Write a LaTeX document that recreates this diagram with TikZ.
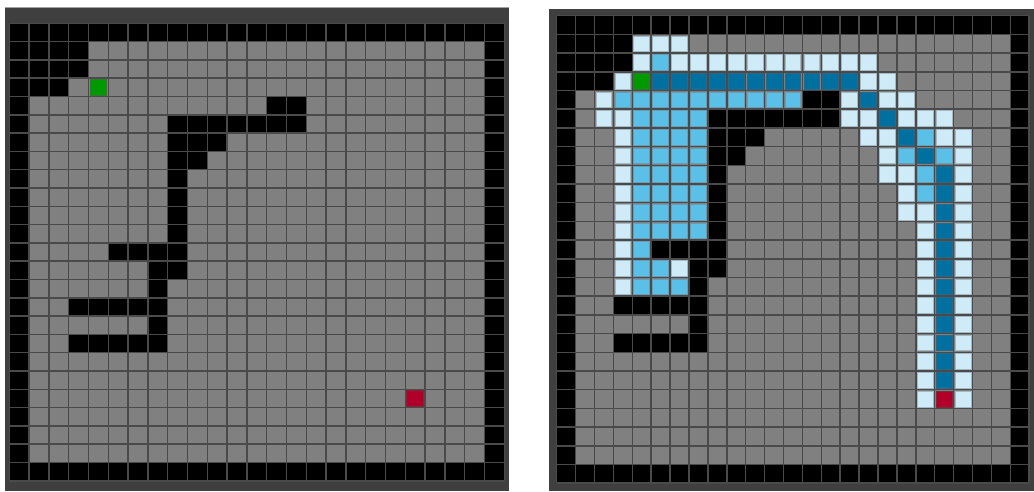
\documentclass[tikz,border=0pt]{standalone}
\definecolor{framec}{HTML}{3F3F3F}
\definecolor{cellc}{HTML}{808080}
\definecolor{linec}{HTML}{4A4A4A}
\definecolor{wallc}{HTML}{000000}
\definecolor{visL}{HTML}{CFEBF7}
\definecolor{visLd}{HTML}{A3BAC4}
\definecolor{visM}{HTML}{5BC0E8}
\definecolor{visMd}{HTML}{6A9DB3}
\definecolor{visD}{HTML}{0070A0}
\definecolor{visDd}{HTML}{2D6786}
\definecolor{startc}{HTML}{009A00}
\definecolor{startd}{HTML}{2F7A2F}
\definecolor{goalc}{HTML}{B0002A}
\definecolor{goald}{HTML}{7A2A38}
\tikzset{
  panelframe/.style={fill=framec},
  floorcell/.style={fill=cellc},
  wallcell/.style={fill=wallc},
  gridline/.style={draw=linec, line width=1.5pt},
  visitcell/.style={line width=0.8pt},
  vislight/.style={visitcell, fill=visL, draw=visLd},
  vismid/.style={visitcell, fill=visM, draw=visMd},
  visdark/.style={visitcell, fill=visD, draw=visDd},
  startcell/.style={visitcell, fill=startc, draw=startd},
  goalcell/.style={visitcell, fill=goalc, draw=goald},
}
\newcommand{\mazebase}{%
  \fill[floorcell] (0,0) rectangle (25,25);
  \fill[wallcell] (0,0) rectangle (1,25);
  \fill[wallcell] (24,0) rectangle (25,25);
  \foreach \r/\a/\b in {0/0/24,24/0/24,1/1/3,2/1/3,3/1/2,4/13/14,5/8/14,6/8/10,7/8/9,8/8/8,9/8/8,10/8/8,11/8/8,12/5/8,13/7/8,14/7/7,15/3/7,16/7/7,17/3/7}{%
    \fill[wallcell] (\a,\r) rectangle (\b+1,\r+1);}
  \foreach \i in {0,...,25}{%
    \draw[gridline] (\i,0) -- (\i,25);
    \draw[gridline] (0,\i) -- (25,\i);}
}
\newcommand{\vcell}[3]{\path[#1] (#2+0.08,#3+0.08) rectangle (#2+0.92,#3+0.92);}
\begin{document}
\begin{tikzpicture}
\useasboundingbox (0pt,0pt) rectangle (1034pt,-491pt);
% frames
\fill[panelframe] (5pt,-7pt) rectangle (509pt,-491pt);
\draw[gray!75, line width=1pt] (5pt,-7.5pt) -- (509pt,-7.5pt);
\fill[panelframe] (549pt,-9pt) rectangle (1034pt,-491pt);
% left panel
\begin{scope}[shift={(9.3pt,-23.3pt)}, x=19.8pt, y=-18.3pt]
  \mazebase
  \vcell{startcell}{4}{3}
  \vcell{goalcell}{20}{20}
\end{scope}
% right panel
\begin{scope}[shift={(556.7pt,-15.7pt)}, x=18.9pt, y=-18.7pt]
  \mazebase
  \foreach \r/\a/\b in {1/4/6,2/4/4,2/6/16,3/3/3,3/16/17,4/2/2,4/15/15,4/17/18,5/2/3,5/15/16,5/18/20,6/3/3,6/16/17,6/20/21,7/3/3,7/17/17,7/21/21,8/3/3,8/17/18,8/21/21,9/3/3,9/18/18,9/21/21,10/3/3,10/18/19,10/21/21,11/3/3,11/19/19,11/21/21,12/3/3,12/19/19,12/21/21,13/3/3,13/6/6,13/19/19,13/21/21,14/3/3,14/19/19,14/21/21,15/19/19,15/21/21,16/19/19,16/21/21,17/19/19,17/21/21,18/19/19,18/21/21,19/19/19,19/21/21,20/19/19,20/21/21}{%
    \foreach \c in {\a,...,\b}{\vcell{vislight}{\c}{\r}}}
  \foreach \r/\a/\b in {2/5/5,4/3/12,5/4/7,6/4/7,6/19/19,7/4/7,7/18/18,7/20/20,8/4/7,8/19/19,9/4/7,9/19/19,10/4/7,11/4/7,12/4/4,13/4/5,14/4/6}{%
    \foreach \c in {\a,...,\b}{\vcell{vismid}{\c}{\r}}}
  \foreach \r/\a/\b in {3/5/15,4/16/16,5/17/17,6/18/18,7/19/19,8/20/20,9/20/20,10/20/20,11/20/20,12/20/20,13/20/20,14/20/20,15/20/20,16/20/20,17/20/20,18/20/20,19/20/20}{%
    \foreach \c in {\a,...,\b}{\vcell{visdark}{\c}{\r}}}
  \vcell{startcell}{4}{3}
  \vcell{goalcell}{20}{20}
\end{scope}
\end{tikzpicture}
\end{document}
